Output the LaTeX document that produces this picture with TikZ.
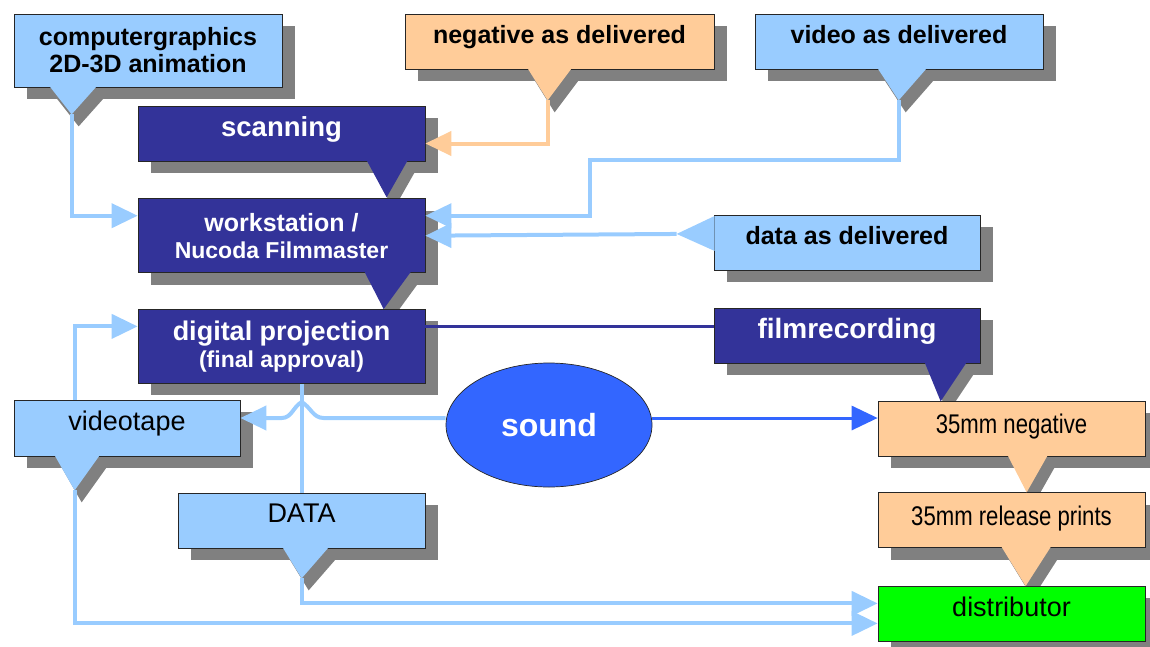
\documentclass[tikz,border=0pt]{standalone}
\usepackage{fontspec}
\setmainfont{Liberation Sans}
\newfontfamily\narrowfont[FakeStretch=0.82]{Liberation Sans}
\usetikzlibrary{positioning,shapes,shadows,arrows.meta}
\definecolor{lightblue}{HTML}{99CCFF}
\definecolor{peach}{HTML}{FFCC99}
\definecolor{navy}{HTML}{333399}
\definecolor{soundblue}{HTML}{3366FF}
\definecolor{shadowgray}{HTML}{808080}
\definecolor{distgreen}{HTML}{00FF00}
\pgfdeclarelayer{background}
\pgfsetlayers{background,main}
\tikzstyle{callout}=[rectangle, draw=black!85, line width=0.7pt, inner sep=0pt, align=center, drop shadow={shadow xshift=13pt, shadow yshift=-12pt, fill=shadowgray, opacity=1}]
\tikzstyle{raised}=[text depth=14pt]
\tikzstyle{bluebox}=[callout, fill=lightblue, font=\fontsize{25}{27}\selectfont\bfseries]
\tikzstyle{peachbox}=[callout, fill=peach, font=\fontsize{25}{27}\selectfont\bfseries]
\tikzstyle{navybox}=[callout, fill=navy, text=white, font=\fontsize{25}{27}\selectfont\bfseries]
\tikzstyle{tapebox}=[callout, fill=lightblue, font=\fontsize{27}{29}\selectfont]
\tikzstyle{filmbox}=[callout, fill=peach, text depth=9pt, font=\narrowfont\fontsize{27}{29}\selectfont]
\newcommand{\downtail}[5]{%
  \begin{pgfonlayer}{background}
    \fill[shadowgray, transform canvas={xshift=7pt, yshift=-12pt}] ([xshift=#3, yshift=1pt]#2.south west) -- (#5) -- ([xshift=#4, yshift=1pt]#2.south west) -- cycle;
  \end{pgfonlayer}
  \fill[#1] ([xshift=#3, yshift=1pt]#2.south west) -- (#5) -- ([xshift=#4, yshift=1pt]#2.south west) -- cycle;
}

\begin{document}
\begin{tikzpicture}[
        x=1pt, y=-1pt,
        line/.style={-{Triangle[length=26pt, width=24pt]}, line width=4pt, draw=lightblue},
        peachline/.style={line, draw=peach},
        soundline/.style={line, line width=3pt, draw=soundblue},
        navyline/.style={line width=3pt, draw=navy},
      ]
      \useasboundingbox (0,0) rectangle (1150,646);
      \node (Comp) [bluebox, minimum width=268pt, minimum height=73pt] at (148,50.5) {computergraphics\\2D-3D animation};
      \node (Neg) [peachbox, raised, minimum width=309pt, minimum height=55pt] at (559.5,41.5) {negative as delivered};
      \node (Video) [bluebox, raised, minimum width=288pt, minimum height=55pt] at (899,41.5) {video as delivered};
      \node (Scan) [navybox, raised, minimum width=287pt, minimum height=55pt, font=\fontsize{27.5}{29}\selectfont\bfseries] at (281.5,133.5) {scanning};
      \node (Work) [navybox, minimum width=287pt, minimum height=74pt, below=37pt of Scan] {workstation /\\{\fontsize{23}{26}\selectfont Nucoda Filmmaster}};
      \node (Proj) [navybox, minimum width=287pt, minimum height=74pt, below=36pt of Work, font=\fontsize{23}{27}\selectfont\bfseries] {{\fontsize{27}{29}\selectfont digital projection}\\(final approval)};
      \node (Film) [navybox, raised, minimum width=266pt, minimum height=55pt, font=\fontsize{28}{30}\selectfont\bfseries] at (847,335.5) {filmrecording};
      \node (Data) [bluebox, raised, minimum width=266pt, minimum height=55pt, above=37pt of Film] {data as delivered};
      \node (Tape) [tapebox, raised, minimum width=226pt, minimum height=56pt] at (127,428) {videotape};
      \node (Sound) [ellipse, draw=black!85, line width=0.7pt, fill=soundblue, text=white, minimum width=206pt, minimum height=124pt, font=\fontsize{32}{34}\selectfont\bfseries] at (549,425) {sound};
      \node (Neg35) [filmbox, minimum width=267pt, minimum height=55pt] at (1011.5,428.5) {35mm negative};
      \node (Prints) [filmbox, minimum width=267pt, minimum height=55pt, below=36pt of Neg35] {35mm release prints};
      \node (Dist) [tapebox, raised, fill=distgreen, minimum width=267pt, minimum height=55pt, below=38pt of Prints] {distributor};
      \node (DATAbox) [tapebox, raised, minimum width=247pt, minimum height=55pt] at (301.5,520.5) {DATA};
      \coordinate (CompTip) at ([xshift=58pt, yshift=-27pt]Comp.south west);
      \coordinate (NegTip) at ([xshift=143pt, yshift=-31pt]Neg.south west);
      \coordinate (VideoTip) at ([xshift=144pt, yshift=-31pt]Video.south west);
      \coordinate (ScanTip) at ([xshift=249pt, yshift=-36pt]Scan.south west);
      \coordinate (WorkTip) at ([xshift=246pt, yshift=-36pt]Work.south west);
      \coordinate (FilmTip) at ([xshift=227pt, yshift=-38pt]Film.south west);
      \coordinate (TapeTip) at ([xshift=61pt, yshift=-34pt]Tape.south west);
      \coordinate (Neg35Tip) at ([xshift=149pt, yshift=-36pt]Neg35.south west);
      \coordinate (PrintsTip) at ([xshift=148pt, yshift=-38pt]Prints.south west);
      \coordinate (DATATip) at ([xshift=124pt, yshift=-30pt]DATAbox.south west);
      \coordinate (DataTip) at ([xshift=-37pt, yshift=-19pt]Data.north west);
      \coordinate (VideoBend) at (590,160);
      \downtail{lightblue}{Comp}{36pt}{83pt}{CompTip}
      \downtail{peach}{Neg}{123pt}{167pt}{NegTip}
      \downtail{lightblue}{Video}{123pt}{172pt}{VideoTip}
      \downtail{navy}{Scan}{229pt}{270pt}{ScanTip}
      \downtail{navy}{Work}{227pt}{273pt}{WorkTip}
      \downtail{navy}{Film}{211pt}{253pt}{FilmTip}
      \downtail{lightblue}{Tape}{41pt}{86pt}{TapeTip}
      \downtail{peach}{Neg35}{130pt}{170pt}{Neg35Tip}
      \downtail{peach}{Prints}{124pt}{173pt}{PrintsTip}
      \downtail{lightblue}{DATAbox}{105pt}{151pt}{DATATip}
      \fill[lightblue] ([xshift=1pt, yshift=-1pt]Data.north west) -- (DataTip) -- ([xshift=1pt, yshift=-36pt]Data.north west) -- cycle;
      \draw [line] (CompTip) |- ([yshift=20pt]Work.west);
      \draw [peachline] (NegTip) |- ([yshift=-10pt]Scan.east);
      \draw [line] (VideoTip) |- (VideoBend) |- ([yshift=20pt]Work.east);
      \draw [line] (DataTip) -- (Work.east);
      \draw [navyline] ([yshift=20pt]Proj.east) -- ([yshift=20pt]Proj.east -| Film.west);
      \draw [line] ([xshift=-52pt]Tape.north) |- ([yshift=20pt]Proj.west);
      \draw [line width=4pt, draw=lightblue] ([xshift=20pt]Proj.south) -- (DATAbox.north);
      \draw [line] ([yshift=7pt]Sound.west) -- ++(-122,0) to[out=180, in=-30] ++(-22,-16) to[out=-150, in=0] ++(-20,16) -- ([yshift=10pt]Tape.east);
      \draw [soundline] ([yshift=7pt]Sound.east) -- ([yshift=7pt]Sound.east -| Neg35.west);
      \draw [line] (DATATip) |- ([yshift=10.5pt]Dist.west);
      \draw [line] (TapeTip) |- ([yshift=-9.5pt]Dist.west);
\end{tikzpicture}
\end{document}
